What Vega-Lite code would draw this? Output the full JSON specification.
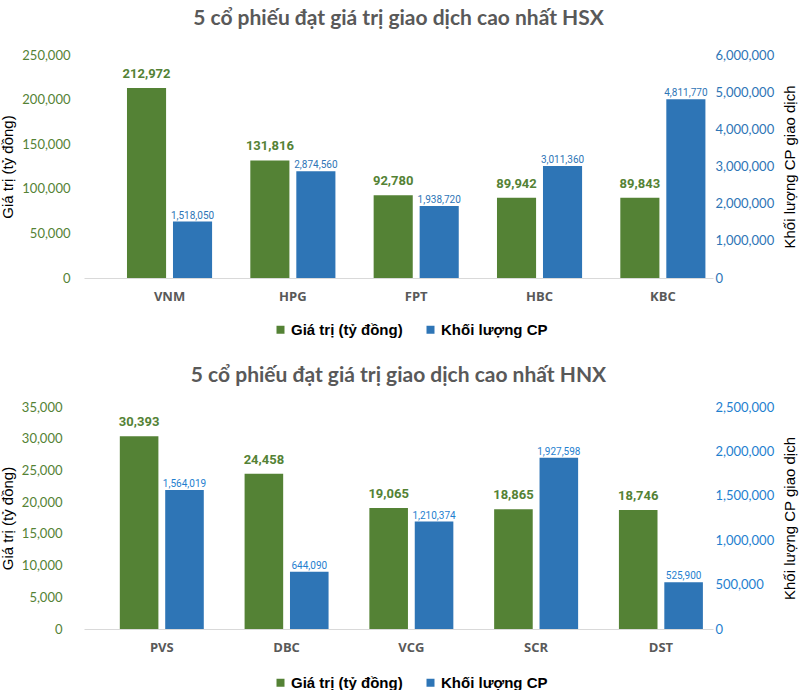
{
  "$schema": "https://vega.github.io/schema/vega-lite/v6.json",
  "background": "white",
  "padding": {"left": 0, "top": 8, "right": 5, "bottom": 0},
  "config": {"view": {"stroke": null}, "font": "Lato", "axis": {"grid": false, "ticks": false}},
  "datasets": {
    "hsx": [
      {"ticker": "VNM", "series": "Giá trị (tỷ đồng)", "value": 212972},
      {"ticker": "HPG", "series": "Giá trị (tỷ đồng)", "value": 131816},
      {"ticker": "FPT", "series": "Giá trị (tỷ đồng)", "value": 92780},
      {"ticker": "HBC", "series": "Giá trị (tỷ đồng)", "value": 89942},
      {"ticker": "KBC", "series": "Giá trị (tỷ đồng)", "value": 89843},
      {"ticker": "VNM", "series": "Khối lượng CP", "value": 1518050},
      {"ticker": "HPG", "series": "Khối lượng CP", "value": 2874560},
      {"ticker": "FPT", "series": "Khối lượng CP", "value": 1938720},
      {"ticker": "HBC", "series": "Khối lượng CP", "value": 3011360},
      {"ticker": "KBC", "series": "Khối lượng CP", "value": 4811770}
    ],
    "hnx": [
      {"ticker": "PVS", "series": "Giá trị (tỷ đồng)", "value": 30393},
      {"ticker": "DBC", "series": "Giá trị (tỷ đồng)", "value": 24458},
      {"ticker": "VCG", "series": "Giá trị (tỷ đồng)", "value": 19065},
      {"ticker": "SCR", "series": "Giá trị (tỷ đồng)", "value": 18865},
      {"ticker": "DST", "series": "Giá trị (tỷ đồng)", "value": 18746},
      {"ticker": "PVS", "series": "Khối lượng CP", "value": 1564019},
      {"ticker": "DBC", "series": "Khối lượng CP", "value": 644090},
      {"ticker": "VCG", "series": "Khối lượng CP", "value": 1210374},
      {"ticker": "SCR", "series": "Khối lượng CP", "value": 1927598},
      {"ticker": "DST", "series": "Khối lượng CP", "value": 525900}
    ]
  },
  "columns": 1,
  "spacing": 27,
  "resolve": {"scale": {"color": "independent", "xOffset": "independent"}, "legend": {"color": "independent"}},
  "concat": [
    {
      "data": {"name": "hsx"},
      "width": 629,
      "height": 223,
      "title": {"text": "5 cổ phiếu đạt giá trị giao dịch cao nhất HSX", "font": "Lato", "fontSize": 21, "fontWeight": "bold", "color": "#595959", "offset": 20},
      "encoding": {
        "x": {"field": "ticker", "type": "nominal", "sort": null,
          "scale": {"paddingInner": 0.31, "paddingOuter": 0.205, "align": 0.85},
          "axis": {"title": null, "labelAngle": 0, "labelFont": "Open Sans", "labelFontWeight": "bold", "labelFontSize": 13, "labelColor": "#595959", "labelPadding": 12, "domainColor": "#d9d9d9", "ticks": false}},
        "xOffset": {"field": "series", "type": "nominal", "sort": null,
          "scale": {"domain": ["Giá trị (tỷ đồng)", "Khối lượng CP"], "paddingInner": 0.15}},
        "color": {"field": "series", "type": "nominal",
          "scale": {"domain": ["Giá trị (tỷ đồng)", "Khối lượng CP"], "range": ["#548235", "#2E75B6"]},
          "legend": {"orient": "none", "legendX": 189, "legendY": 267, "direction": "horizontal", "title": null, "symbolType": "square", "symbolSize": 64, "symbolStrokeWidth": 0, "labelFont": "Liberation Sans", "labelFontSize": 15, "labelFontWeight": "bold", "labelColor": "#000000", "columnPadding": 20, "labelOffset": 3, "labelLimit": 300}}
      },
      "layer": [
        {
          "transform": [{"filter": {"field": "series", "equal": "Giá trị (tỷ đồng)"}}],
          "encoding": {"y": {"field": "value", "type": "quantitative", "scale": {"domain": [0, 250000]},
            "axis": {"orient": "left", "title": "Giá trị (tỷ đồng)", "titleFont": "Liberation Sans", "titleFontSize": 15, "titleFontWeight": "normal", "titleColor": "#000000", "titlePadding": 6, "labelFont": "Lato", "labelFontSize": 13, "labelColor": "#548235", "labelPadding": 14, "domain": false, "ticks": false, "grid": false, "values": [0, 50000, 100000, 150000, 200000, 250000], "format": ",.0f"}}},
          "layer": [
            {"mark": {"type": "bar"}},
            {"mark": {"type": "text", "dy": -10, "baseline": "alphabetic", "font": "Roboto", "fontSize": 13, "fontWeight": "bold"},
              "encoding": {"text": {"field": "value", "type": "quantitative", "format": ",.0f"}, "color": {"value": "#548235"}}}
          ]
        },
        {
          "transform": [{"filter": {"field": "series", "equal": "Khối lượng CP"}}],
          "encoding": {"y": {"field": "value", "type": "quantitative", "scale": {"domain": [0, 6000000]},
            "axis": {"orient": "right", "title": "Khối lượng CP giao dịch", "titleAngle": 270, "titleBaseline": "top", "titleFont": "Liberation Sans", "titleFontSize": 15, "titleFontWeight": "normal", "titleColor": "#000000", "titlePadding": 9, "labelFont": "Lato", "labelFontSize": 13, "labelColor": "#2E75B6", "labelPadding": 2, "domain": false, "ticks": false, "grid": false, "values": [0, 1000000, 2000000, 3000000, 4000000, 5000000, 6000000], "format": ",.0f"}}},
          "layer": [
            {"mark": {"type": "bar"}},
            {"mark": {"type": "text", "dy": -3, "baseline": "alphabetic", "font": "Roboto", "fontSize": 10},
              "encoding": {"text": {"field": "value", "type": "quantitative", "format": ",.0f"}, "color": {"value": "#2E75B6"}}}
          ]
        }
      ],
      "resolve": {"scale": {"y": "independent"}}
    },
    {
      "data": {"name": "hnx"},
      "width": 629,
      "height": 222,
      "title": {"text": "5 cổ phiếu đạt giá trị giao dịch cao nhất HNX", "font": "Lato", "fontSize": 21, "fontWeight": "bold", "color": "#595959", "offset": 15},
      "encoding": {
        "x": {"field": "ticker", "type": "nominal", "sort": null,
          "scale": {"paddingInner": 0.327, "paddingOuter": 0.184, "align": 0.78},
          "axis": {"title": null, "labelAngle": 0, "labelFont": "Open Sans", "labelFontWeight": "bold", "labelFontSize": 13, "labelColor": "#595959", "labelPadding": 12, "domainColor": "#d9d9d9", "ticks": false}},
        "xOffset": {"field": "series", "type": "nominal", "sort": null,
          "scale": {"domain": ["Giá trị (tỷ đồng)", "Khối lượng CP"], "paddingInner": 0.15}},
        "color": {"field": "series", "type": "nominal",
          "scale": {"domain": ["Giá trị (tỷ đồng)", "Khối lượng CP"], "range": ["#548235", "#2E75B6"]},
          "legend": {"orient": "none", "legendX": 189, "legendY": 268, "direction": "horizontal", "title": null, "symbolType": "square", "symbolSize": 64, "symbolStrokeWidth": 0, "labelFont": "Liberation Sans", "labelFontSize": 15, "labelFontWeight": "bold", "labelColor": "#000000", "columnPadding": 20, "labelOffset": 3, "labelLimit": 300}}
      },
      "layer": [
        {
          "transform": [{"filter": {"field": "series", "equal": "Giá trị (tỷ đồng)"}}],
          "encoding": {"y": {"field": "value", "type": "quantitative", "scale": {"domain": [0, 35000]},
            "axis": {"orient": "left", "title": "Giá trị (tỷ đồng)", "titleFont": "Liberation Sans", "titleFontSize": 15, "titleFontWeight": "normal", "titleColor": "#000000", "titlePadding": 6, "labelFont": "Lato", "labelFontSize": 13, "labelColor": "#548235", "labelPadding": 22, "domain": false, "ticks": false, "grid": false, "values": [0, 5000, 10000, 15000, 20000, 25000, 30000, 35000], "format": ",.0f"}}},
          "layer": [
            {"mark": {"type": "bar"}},
            {"mark": {"type": "text", "dy": -10, "baseline": "alphabetic", "font": "Roboto", "fontSize": 13, "fontWeight": "bold"},
              "encoding": {"text": {"field": "value", "type": "quantitative", "format": ",.0f"}, "color": {"value": "#548235"}}}
          ]
        },
        {
          "transform": [{"filter": {"field": "series", "equal": "Khối lượng CP"}}],
          "encoding": {"y": {"field": "value", "type": "quantitative", "scale": {"domain": [0, 2500000]},
            "axis": {"orient": "right", "title": "Khối lượng CP giao dịch", "titleAngle": 270, "titleBaseline": "top", "titleFont": "Liberation Sans", "titleFontSize": 15, "titleFontWeight": "normal", "titleColor": "#000000", "titlePadding": 9, "labelFont": "Lato", "labelFontSize": 13, "labelColor": "#1F7FCF", "labelPadding": 2, "domain": false, "ticks": false, "grid": false, "values": [0, 500000, 1000000, 1500000, 2000000, 2500000], "format": ",.0f"}}},
          "layer": [
            {"mark": {"type": "bar"}},
            {"mark": {"type": "text", "dy": -3, "baseline": "alphabetic", "font": "Roboto", "fontSize": 10},
              "encoding": {"text": {"field": "value", "type": "quantitative", "format": ",.0f"}, "color": {"value": "#1F7FCF"}}}
          ]
        }
      ],
      "resolve": {"scale": {"y": "independent"}}
    }
  ]
}
